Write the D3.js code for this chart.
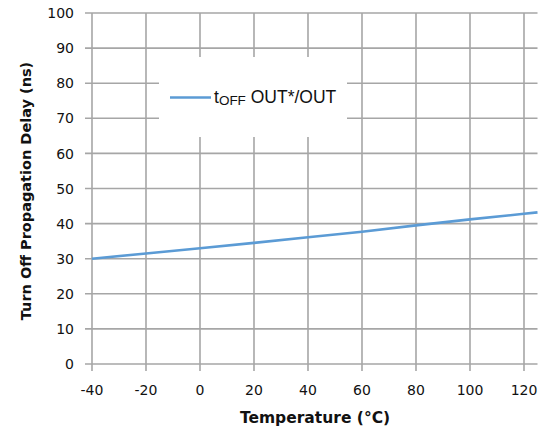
<!DOCTYPE html>
<html>
<head>
<meta charset="utf-8">
<script src="https://cdn.jsdelivr.net/npm/d3@7"></script>
<style>
  html, body { margin: 0; padding: 0; background: #fff; }
  svg { display: block; }
</style>
</head>
<body>
<script>
// ---- data ----
const temperatures = [-40, -20, 0, 20, 40, 60, 80, 100, 120, 125];
const toffDelay    = [30.0, 31.5, 33.0, 34.5, 36.1, 37.7, 39.5, 41.2, 42.8, 43.2];
const xTicks = [-40, -20, 0, 20, 40, 60, 80, 100, 120];
const yTicks = [0, 10, 20, 30, 40, 50, 60, 70, 80, 90, 100];
const seriesName = { main: "t", sub: "OFF", rest: " OUT*/OUT" };
const xTitle = "Temperature (°C)";
const yTitle = "Turn Off Propagation Delay (ns)";

const W = 554, H = 433;
const svg = d3.select("body").append("svg").attr("width", W).attr("height", H);
svg.append("rect").attr("width", W).attr("height", H).attr("fill", "#fff");

const x = d3.scaleLinear().domain([-40, 125]).range([92, 537.5]);
const y = d3.scaleLinear().domain([0, 100]).range([364, 13]);

const gridColor = "#a6a6a6";
const tickFont = "DejaVu Sans, sans-serif";

// horizontal gridlines (extend left as tick marks)
svg.append("g").selectAll("line").data(yTicks).join("line")
  .attr("x1", 85).attr("x2", x.range()[1])
  .attr("y1", d => y(d)).attr("y2", d => y(d))
  .attr("stroke", gridColor).attr("stroke-width", 1.6);

// vertical gridlines (extend down as tick marks)
svg.append("g").selectAll("line").data(xTicks).join("line")
  .attr("x1", d => x(d)).attr("x2", d => x(d))
  .attr("y1", y(100)).attr("y2", y(0) + 7)
  .attr("stroke", gridColor).attr("stroke-width", 1.6);

// y tick labels
svg.append("g").selectAll("text").data(yTicks).join("text")
  .attr("x", 74).attr("y", d => y(d)).attr("dy", "0.37em")
  .attr("text-anchor", "end")
  .attr("font-family", tickFont).attr("font-size", 14).attr("fill", "#111")
  .text(d => d);

// x tick labels
svg.append("g").selectAll("text").data(xTicks).join("text")
  .attr("x", d => x(d)).attr("y", 395)
  .attr("text-anchor", "middle")
  .attr("font-family", tickFont).attr("font-size", 14).attr("fill", "#111")
  .text(d => d);

// data line
const line = d3.line().x((d, i) => x(temperatures[i])).y(d => y(d));
svg.append("path").datum(toffDelay)
  .attr("d", line)
  .attr("fill", "none").attr("stroke", "#5b9bd5").attr("stroke-width", 2.6);

// legend box
svg.append("rect").attr("x", 159).attr("y", 57).attr("width", 188).attr("height", 80)
  .attr("fill", "#fff");
svg.append("line").attr("x1", 170).attr("x2", 211).attr("y1", 97.5).attr("y2", 97.5)
  .attr("stroke", "#5b9bd5").attr("stroke-width", 2.6);
const lt = svg.append("text").attr("x", 214).attr("y", 103)
  .attr("font-family", "Liberation Sans, Arial, sans-serif").attr("font-size", 17.5).attr("fill", "#111");
lt.append("tspan").text(seriesName.main);
lt.append("tspan").attr("font-size", 13.5).attr("dy", 1.5).text(seriesName.sub);
lt.append("tspan").attr("dy", -1.5).text(seriesName.rest);

// axis titles
svg.append("text").attr("x", 315).attr("y", 423)
  .attr("text-anchor", "middle")
  .attr("font-family", tickFont).attr("font-weight", "bold").attr("font-size", 15.5)
  .attr("fill", "#111").text(xTitle);

svg.append("text")
  .attr("transform", "translate(31,191) rotate(-90)")
  .attr("text-anchor", "middle")
  .attr("font-family", tickFont).attr("font-weight", "bold").attr("font-size", 14.5)
  .attr("fill", "#111").text(yTitle);
</script>
</body>
</html>
